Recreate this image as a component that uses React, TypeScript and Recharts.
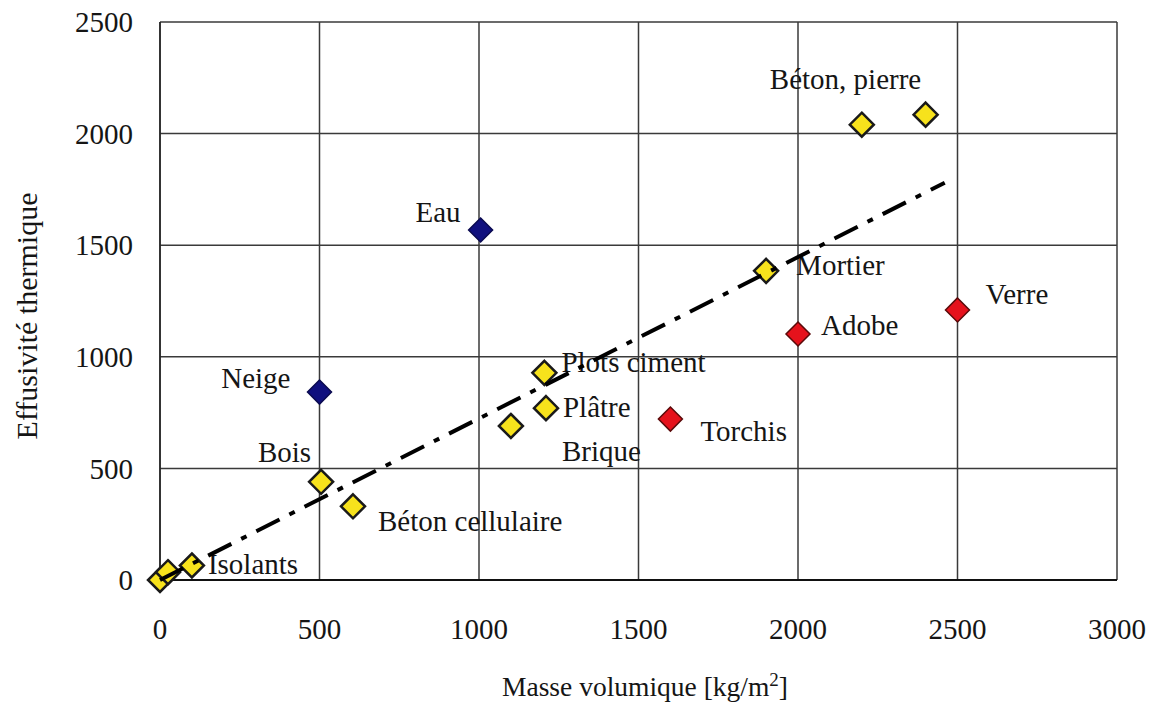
import React from 'react';
import { ScatterChart, Scatter, XAxis, YAxis, CartesianGrid, Label } from 'recharts';

// Matériaux "classiques" (losanges jaunes)
const masseJaune = [0, 25, 100, 505, 605, 1100, 1210, 1205, 1900, 2200, 2400];
const effusiviteJaune = [0, 35, 65, 440, 330, 690, 770, 928, 1385, 2040, 2085];
const nomsJaune = ['', '', 'Isolants', 'Bois', 'Béton cellulaire', 'Brique', 'Plâtre', 'Plots ciment', 'Mortier', 'Béton, pierre', ''];

// Eau et neige (losanges bleus)
const masseBleu = [500, 1005];
const effusiviteBleu = [842, 1568];
const nomsBleu = ['Neige', 'Eau'];

// Terre crue, verre (losanges rouges)
const masseRouge = [1600, 2000, 2500];
const effusiviteRouge = [721, 1102, 1210];
const nomsRouge = ['Torchis', 'Adobe', 'Verre'];

// Droite de tendance
const masseTendance = [0, 2460];
const effusiviteTendance = [0, 1780];

const ticksX = [0, 500, 1000, 1500, 2000, 2500, 3000];
const ticksY = [0, 500, 1000, 1500, 2000, 2500];

const versPoints = (masses: number[], effus: number[], noms: string[] = []) =>
  masses.map((m, i) => ({ masse: m, effusivite: effus[i], nom: noms[i] || '' }));

const donneesJaune = versPoints(masseJaune, effusiviteJaune, nomsJaune);
const donneesBleu = versPoints(masseBleu, effusiviteBleu, nomsBleu);
const donneesRouge = versPoints(masseRouge, effusiviteRouge, nomsRouge);
const donneesTendance = versPoints(masseTendance, effusiviteTendance);

// placement des étiquettes par rapport au losange (px)
const placement: Record<string, { dx: number; dy: number; ancre: 'start' | 'end' }> = {
  Isolants: { dx: 16, dy: -2, ancre: 'start' },
  Bois: { dx: -10, dy: -30, ancre: 'end' },
  'Béton cellulaire': { dx: 25, dy: 15, ancre: 'start' },
  Brique: { dx: 51, dy: 25, ancre: 'start' },
  'Plâtre': { dx: 17, dy: -1, ancre: 'start' },
  'Plots ciment': { dx: 17, dy: -11, ancre: 'start' },
  Mortier: { dx: 30, dy: -6, ancre: 'start' },
  'Béton, pierre': { dx: -92, dy: -46, ancre: 'start' },
  Neige: { dx: -29, dy: -14, ancre: 'end' },
  Eau: { dx: -20, dy: -18, ancre: 'end' },
  Torchis: { dx: 30, dy: 12, ancre: 'start' },
  Adobe: { dx: 23, dy: -9, ancre: 'start' },
  Verre: { dx: 28, dy: -16, ancre: 'start' },
};

const police = '"Liberation Serif", "Times New Roman", serif';

const Losange = ({ cx, cy, payload, fond, trait, epaisseur }: any) => {
  const r = 12;
  const pos = placement[payload?.nom];
  return (
    <g>
      <polygon
        points={`${cx},${cy - r} ${cx + r},${cy} ${cx},${cy + r} ${cx - r},${cy}`}
        fill={fond}
        stroke={trait}
        strokeWidth={epaisseur}
        strokeLinejoin="miter"
      />
      {pos && (
        <text
          x={cx + pos.dx}
          y={cy + pos.dy}
          dy="0.35em"
          textAnchor={pos.ancre}
          fontFamily={police}
          fontSize={29}
          fill="#151515"
        >
          {payload.nom}
        </text>
      )}
    </g>
  );
};

export default function App() {
  return (
    <div style={{ position: 'absolute', left: 0, top: 0, background: '#fff' }}>
      <ScatterChart width={1157} height={704} margin={{ top: 22, right: 40, left: 0, bottom: 0 }}>
        <CartesianGrid stroke="#3a3a3a" strokeWidth={1.5} />
        <XAxis
          type="number"
          dataKey="masse"
          domain={[0, 3000]}
          ticks={ticksX}
          height={124}
          axisLine={{ stroke: '#111', strokeWidth: 2 }}
          tickLine={false}
          tickSize={0}
          tickMargin={38}
          tick={{ fontFamily: police, fontSize: 29, fill: '#151515' }}
        >
          <Label
            content={() => (
              <text x={645} y={696} textAnchor="middle" fontFamily={police} fontSize={27.5} fill="#151515">
                Masse volumique [kg/m
                <tspan dy={-10} fontSize={19}>2</tspan>
                <tspan dy={10}>]</tspan>
              </text>
            )}
          />
        </XAxis>
        <YAxis
          type="number"
          dataKey="effusivite"
          domain={[0, 2500]}
          ticks={ticksY}
          width={160}
          axisLine={{ stroke: '#222', strokeWidth: 1.5 }}
          tickLine={false}
          tickSize={0}
          tickMargin={27}
          tick={{ fontFamily: police, fontSize: 29, fill: '#151515' }}
        >
          <Label
            content={() => (
              <text
                x={37}
                y={316}
                transform="rotate(-90 37 316)"
                textAnchor="middle"
                fontFamily={police}
                fontSize={30}
                fill="#151515"
              >
                Effusivité thermique
              </text>
            )}
          />
        </YAxis>
        <Scatter
          data={donneesJaune}
          isAnimationActive={false}
          shape={(p: any) => <Losange {...p} fond="#f7e21c" trait="#1a1a1a" epaisseur={2.5} />}
        />
        <Scatter
          data={donneesBleu}
          isAnimationActive={false}
          shape={(p: any) => <Losange {...p} fond="#10107e" trait="#0a0a50" epaisseur={1.5} />}
        />
        <Scatter
          data={donneesRouge}
          isAnimationActive={false}
          shape={(p: any) => <Losange {...p} fond="#e5121c" trait="#5a0a0a" epaisseur={1.5} />}
        />
        <Scatter
          data={donneesTendance}
          isAnimationActive={false}
          line={{ stroke: '#000', strokeWidth: 4, strokeDasharray: '26 11 6 11' }}
          shape={() => <g />}
        />
      </ScatterChart>
    </div>
  );
}
